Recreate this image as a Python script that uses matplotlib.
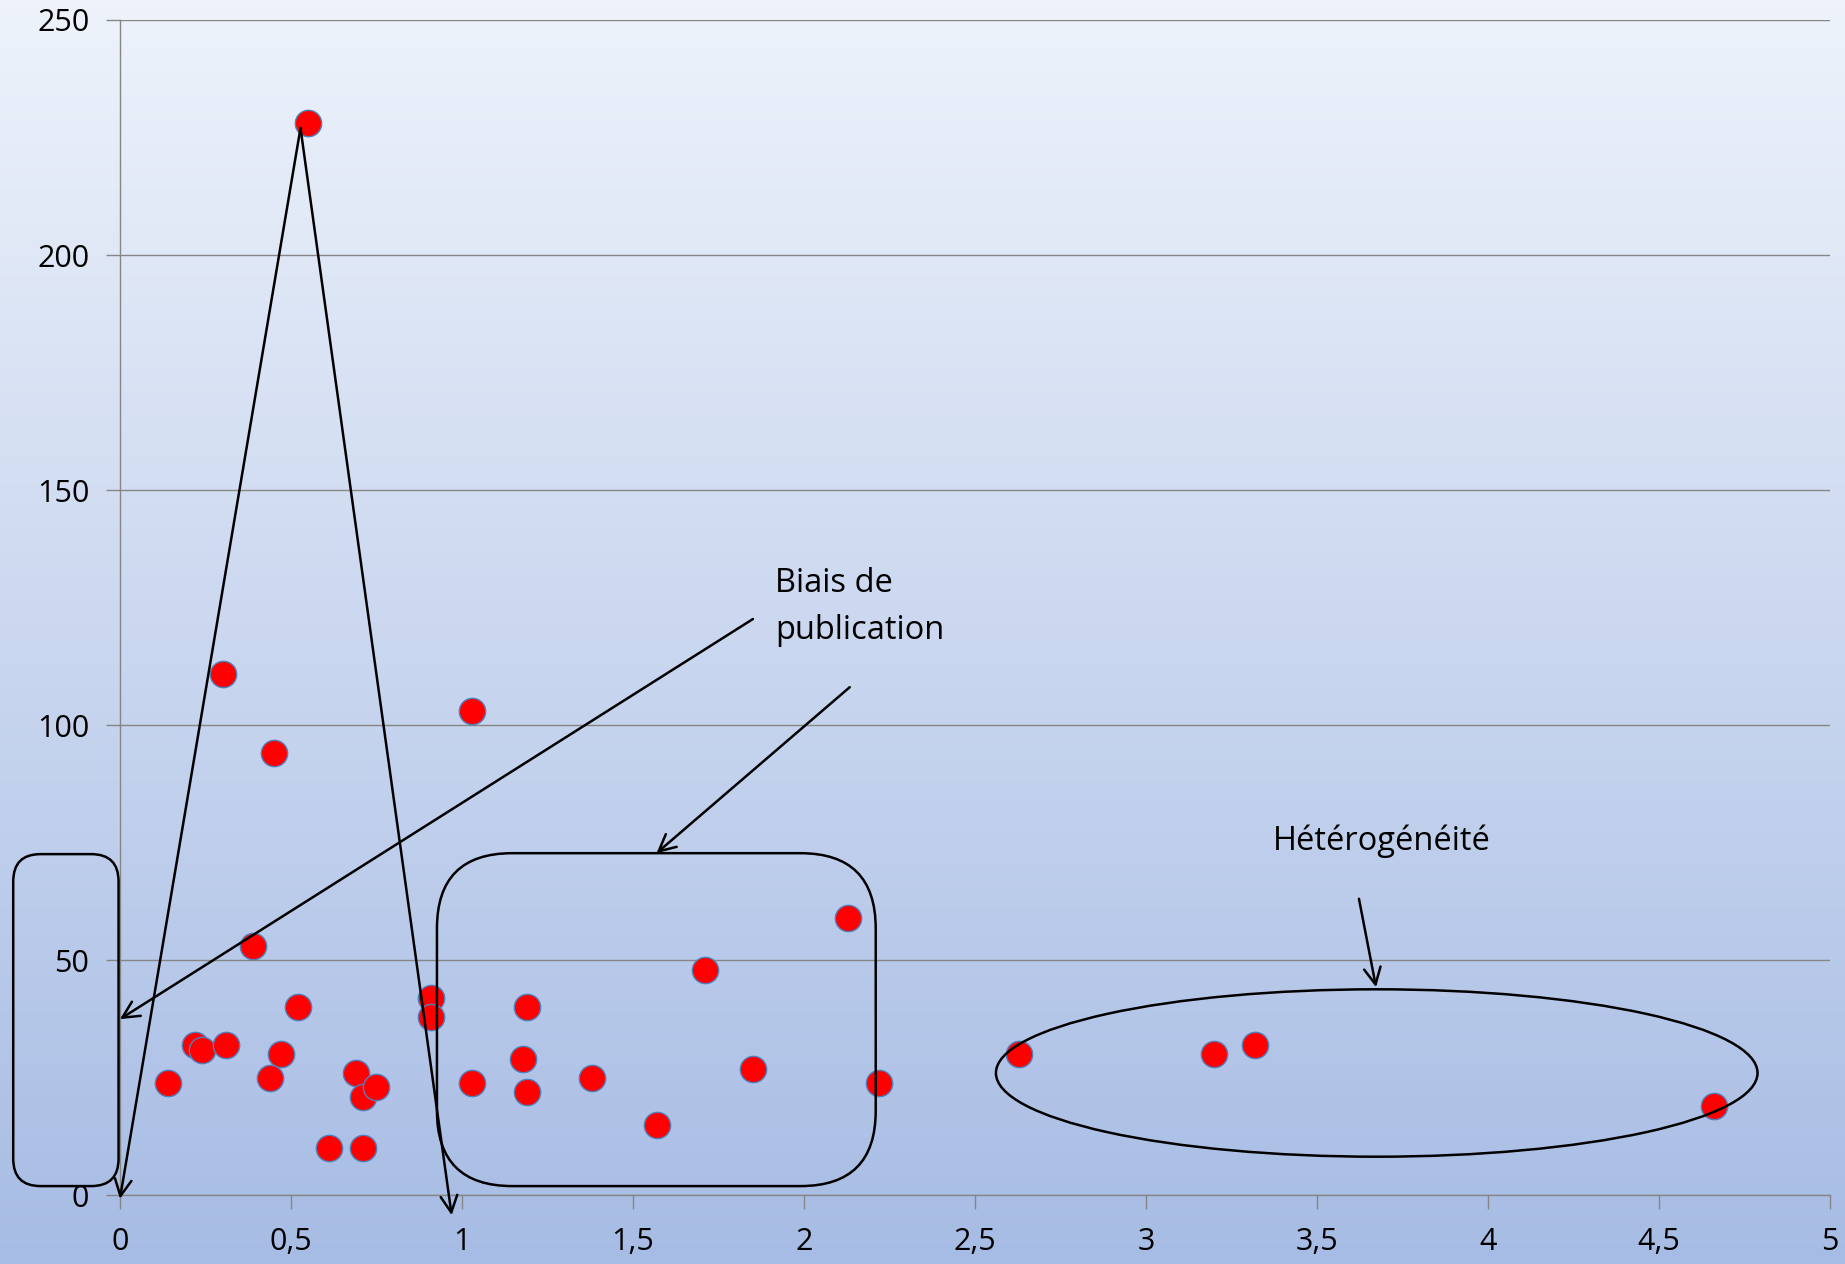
import numpy as np
import matplotlib
matplotlib.use("Agg")
import matplotlib.pyplot as plt
from matplotlib.patches import FancyBboxPatch, Ellipse

plt.rcParams['font.family'] = ['Open Sans', 'DejaVu Sans']

# data
x = [0.55, 0.30, 0.45, 1.03, 0.39, 0.52, 0.14, 0.22, 0.24, 0.31, 0.47,
     0.44, 0.69, 0.71, 0.75, 0.61, 0.71, 0.91, 0.91, 1.03, 1.19, 1.18,
     1.19, 1.38, 1.57, 1.71, 1.85, 2.13, 2.22, 2.63, 3.20, 3.32, 4.66]
y = [228, 111, 94, 103, 53, 40, 24, 32, 31, 32, 30,
     25, 26, 21, 23, 10, 10, 42, 38, 24, 40, 29,
     22, 25, 15, 48, 27, 59, 24, 30, 30, 32, 19]

xticks = [0, 0.5, 1, 1.5, 2, 2.5, 3, 3.5, 4, 4.5, 5]
xlabels = ['0', '0,5', '1', '1,5', '2', '2,5', '3', '3,5', '4', '4,5', '5']
yticks = [0, 50, 100, 150, 200, 250]

fig = plt.figure(figsize=(18.45, 12.64), dpi=100)

# gradient background over the whole figure
bg = fig.add_axes([0, 0, 1, 1], zorder=-10)
grad = np.linspace(0, 1, 256).reshape(-1, 1)
top = np.array([238, 243, 251]) / 255
bot = np.array([167, 188, 228]) / 255
img = top + (bot - top) * grad[:, :, None]
bg.imshow(img, aspect='auto', extent=[0, 1, 0, 1])
bg.axis('off')

ax = fig.add_axes([0.065, 0.0542, 0.9268, 0.93])
ax.patch.set_alpha(0)
ax.set_xlim(0, 5)
ax.set_ylim(0, 250)

ax.scatter(x, y, s=360, color='#FF0000', edgecolor='#4F81BD', linewidth=1, zorder=3)

ax.set_xticks(xticks)
ax.set_xticklabels(xlabels)
ax.set_yticks(yticks)
ax.tick_params(axis='x', length=10, width=1, color='#868686', pad=13, labelsize=22)
ax.tick_params(axis='y', length=10, width=1, color='#868686', pad=12, labelsize=22)
ax.grid(axis='y', color='#868686', linewidth=1)
ax.set_axisbelow(True)
for s in ['top', 'right']:
    ax.spines[s].set_visible(False)
for s in ['left', 'bottom']:
    ax.spines[s].set_color('#868686')
    ax.spines[s].set_linewidth(1)

arrow = dict(arrowstyle='->', lw=1.8, color='black', mutation_scale=30,
             shrinkA=0, shrinkB=0)

# funnel
ax.annotate('', xy=(0.0, -0.7), xytext=(0.528, 227), arrowprops=arrow, annotation_clip=False)
ax.annotate('', xy=(0.97, -4.2), xytext=(0.528, 227), arrowprops=arrow, annotation_clip=False)

# publication bias arrows
ax.annotate('', xy=(0.0, 37.5), xytext=(1.851, 122.6), arrowprops=arrow, annotation_clip=False)
ax.annotate('', xy=(1.569, 72.8), xytext=(2.134, 108.1), arrowprops=arrow, annotation_clip=False)
ax.text(1.915, 125.1, 'Biais de\npublication', fontsize=23.5, va='center', ha='left',
        linespacing=1.55)

# heterogeneity
ax.annotate('', xy=(3.673, 44.3), xytext=(3.623, 63.1), arrowprops=arrow, annotation_clip=False)
ax.text(3.372, 75.3, 'Hétérogénéité', fontsize=23.5, va='center', ha='left')

# rounded boxes, aspect corrects the corner shape
bb = ax.get_position()
aspect = (250 / (bb.height * 12.64)) / (5 / (bb.width * 18.45))
box1 = FancyBboxPatch((-0.312, 2.0), 0.308, 70.6,
                      boxstyle='round,pad=0,rounding_size=0.08',
                      mutation_aspect=aspect, fill=False, lw=1.8, ec='black',
                      clip_on=False, zorder=4)
box2 = FancyBboxPatch((0.927, 2.0), 1.283, 70.8,
                      boxstyle='round,pad=0,rounding_size=0.22',
                      mutation_aspect=aspect, fill=False, lw=1.8, ec='black',
                      clip_on=False, zorder=4)
ax.add_patch(box1)
ax.add_patch(box2)
ax.add_patch(Ellipse((3.675, 26.05), 2.227, 35.6, fill=False, lw=1.8, ec='black', zorder=4))

fig.savefig('out.png', dpi=100)
